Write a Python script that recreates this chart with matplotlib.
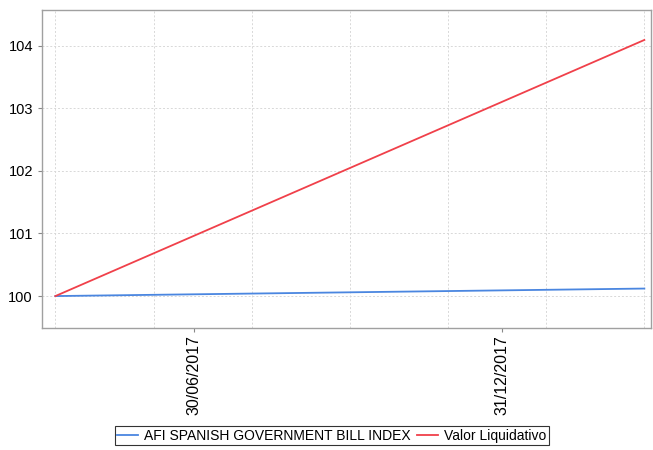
import numpy as np
import pandas as pd
import matplotlib
matplotlib.use("Agg")
import matplotlib.pyplot as plt
import matplotlib.dates as mdates
import matplotlib.ticker as mticker

plt.rcParams['font.family'] = ['Liberation Sans', 'DejaVu Sans']

dates = pd.to_datetime(["2017-04-08", "2018-03-26"])
afi_index = [100.0, 100.12]
valor_liq = [100.0, 104.09]
tick_dates = pd.to_datetime(["2017-06-30", "2017-12-31"])
y_ticks = [100, 101, 102, 103, 104]

fig = plt.figure(figsize=(6.53, 4.5), dpi=100)
ax = fig.add_axes([0.0643, 0.2711, 0.9327, 0.7069])

ax.plot(dates, afi_index, color='#4a86e0', lw=1.3, label='AFI SPANISH GOVERNMENT BILL INDEX')
ax.plot(dates, valor_liq, color='#f0404a', lw=1.3, label='Valor Liquidativo')

ax.set_xlim(pd.Timestamp("2017-03-31"), pd.Timestamp("2018-03-30"))
ax.set_ylim(99.49, 104.57)

ax.set_yticks(y_ticks)
ax.set_xticks(mdates.date2num(tick_dates))
ax.xaxis.set_major_formatter(mdates.DateFormatter('%d/%m/%Y'))
# vertical grid lines split the data range into six parts
grid_x = np.linspace(mdates.date2num(dates[0]), mdates.date2num(dates[-1]), 7)
ax.xaxis.set_minor_locator(mticker.FixedLocator(grid_x))

ax.tick_params(axis='x', which='major', rotation=90, labelsize=11.5, length=3,
               color='#888888', pad=2)
ax.tick_params(axis='x', which='minor', length=0)
ax.tick_params(axis='y', labelsize=10.5, length=3, color='#888888')

ax.grid(True, axis='y', which='major', color='#d8d8d8', ls=(0, (2, 2)), lw=0.7)
ax.grid(True, axis='x', which='minor', color='#d8d8d8', ls=(0, (2, 2)), lw=0.7)
ax.grid(False, axis='x', which='major')

for s in ax.spines.values():
    s.set_color('#a0a0a0')
    s.set_linewidth(1.0)

leg = fig.legend(loc='center', bbox_to_anchor=(0.508, 0.032), ncol=2, fontsize=10,
                 frameon=True, fancybox=False, handlelength=1.5, handletextpad=0.4,
                 columnspacing=0.5, borderpad=0.2, borderaxespad=0)
leg.get_frame().set_edgecolor('black')
leg.get_frame().set_linewidth(0.8)

fig.savefig("out.png", dpi=100)
